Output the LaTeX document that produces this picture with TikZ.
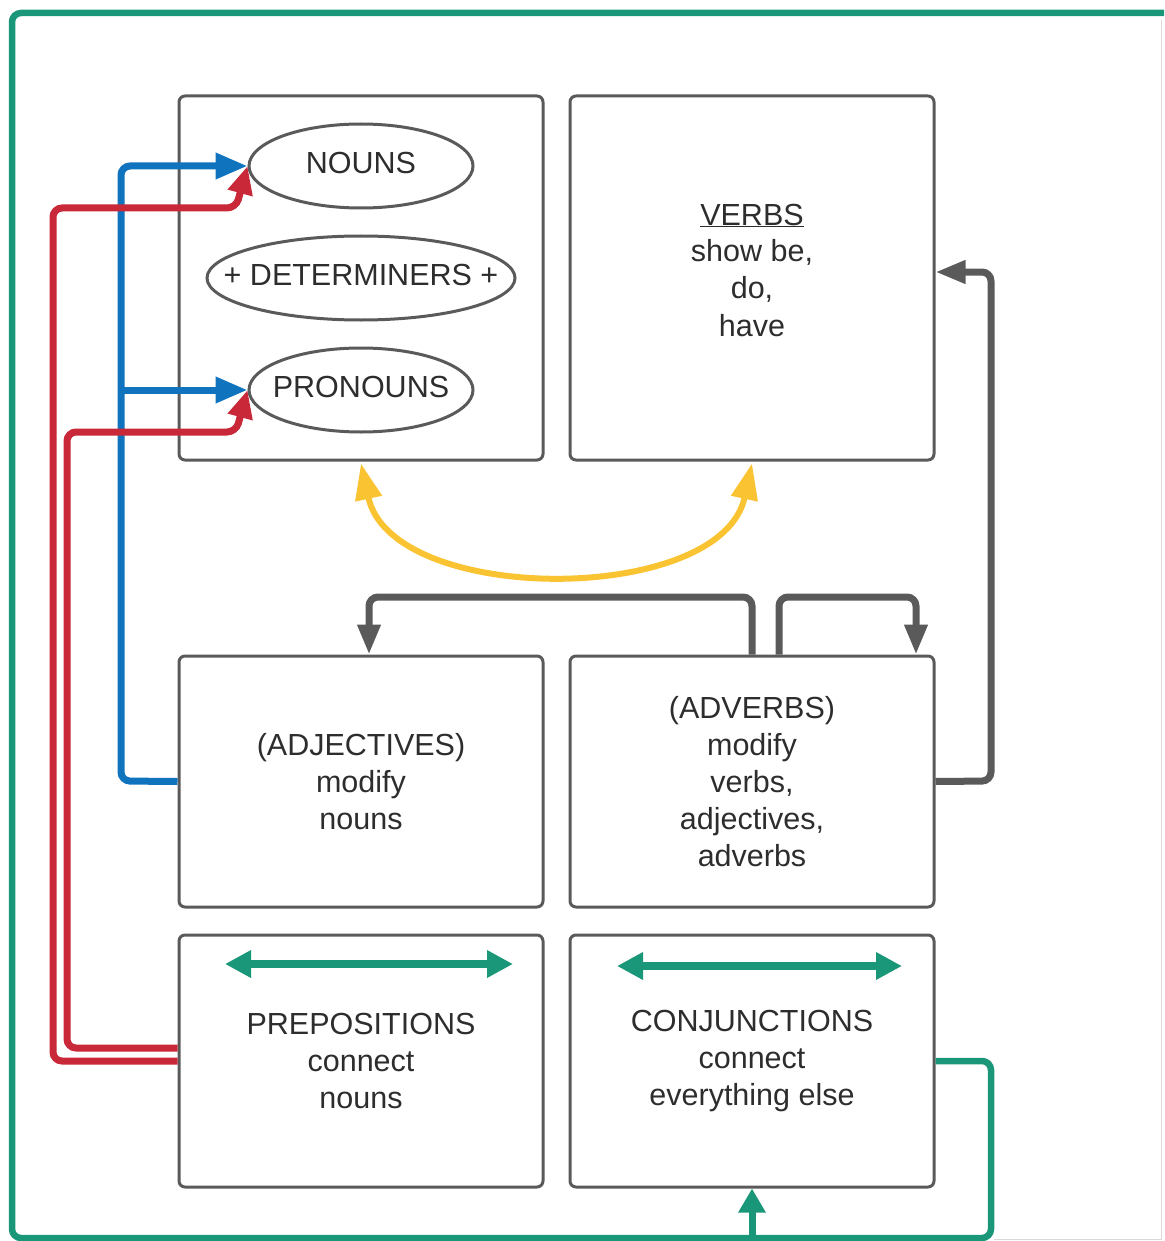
\documentclass[tikz,border=0pt]{standalone}
\usepackage{fontspec}
\setmainfont{Liberation Sans}
\usetikzlibrary{arrows.meta,shapes.geometric}
\definecolor{tealc}{RGB}{26,150,120}
\definecolor{redc}{RGB}{200,40,55}
\definecolor{bluec}{RGB}{16,115,190}
\definecolor{grayc}{RGB}{90,90,90}
\definecolor{yellowc}{RGB}{250,195,50}
\definecolor{textc}{RGB}{45,45,45}
\tikzset{
  box/.style={draw=grayc, line width=3pt, rounded corners=6pt, minimum width=364pt, inner sep=0pt, align=center, text=textc, font=\fontsize{30.5}{37}\selectfont},
  oval/.style={draw=grayc, line width=3pt, ellipse, minimum height=84pt, inner sep=0pt},
  ovaltext/.style={text=textc, font=\fontsize{30.5}{37}\selectfont, inner sep=0pt},
  conn/.style={line width=7pt, rounded corners=9pt},
  bluearrow/.style={conn, draw=bluec, -{Triangle[length=32pt,width=25pt]}},
  redarrow/.style={conn, draw=redc, -{Triangle[length=28pt,width=24pt]}},
  grayarrow/.style={conn, draw=grayc, -{Triangle[length=30pt,width=22pt]}},
  yellowarrow/.style={line width=6pt, draw=yellowc, {Triangle[length=36pt,width=26pt]}-{Triangle[length=36pt,width=26pt]}},
  tealline/.style={conn, line width=6.5pt, draw=tealc},
  tealarrow/.style={line width=7pt, draw=tealc, -{Triangle[length=24pt,width=26pt]}},
  tealdouble/.style={line width=8pt, draw=tealc, {Triangle[length=26pt,width=26pt]}-{Triangle[length=26pt,width=26pt]}},
}
\begin{document}
\begin{tikzpicture}[x=1pt,y=-1pt]
\useasboundingbox (0,0) rectangle (1164,1241);
% boxes
\node[box, minimum height=364pt] (nounbox) at (361,278) {};
\node[box, minimum height=364pt] (verbs) at (752,278) {};
\node[box, minimum height=251pt] (adj) at (361,781.5) {(ADJECTIVES)\\modify\\nouns};
\node[box, minimum height=251pt] (adv) at (752,781.5) {(ADVERBS)\\modify\\verbs,\\adjectives,\\adverbs};
\node[box, minimum height=252pt] (prep) at (361,1061) {PREPOSITIONS\\connect\\nouns};
\node[box, minimum height=252pt] (conj) at (752,1061) {CONJUNCTIONS\\connect\\everything else};
\node[ovaltext, align=center] (verbstext) at (752,270) {\underline{VERBS}\\show be,\\do,\\have};
% ellipses
\node[oval, minimum width=224pt] (nouns) at (361,166) {};
\node[oval, minimum width=308pt] (det) at (361,278) {};
\node[oval, minimum width=224pt] (pron) at (361,390) {};
\node[ovaltext] (nounst) at (361,163) {NOUNS};
\node[ovaltext] (dett) at (361,275) {+ DETERMINERS +};
\node[ovaltext] (pront) at (361,387) {PRONOUNS};
% blue
\coordinate (bj) at (121,390);
\draw[bluearrow] (adj.west) -- (121,781) -- (121,166) -- (nouns.west);
\draw[bluearrow, rounded corners=0pt] (bj) -- (pron.west);
% red
\draw[redarrow] (prep.west) -- (53,1061) -- (53,208) -- (236,208) -- (nouns.west);
\draw[redarrow] ([yshift=13pt]prep.west) -- (67,1048) -- (67,432) -- (236,432) -- (pron.west);
% yellow
\draw[yellowarrow] ([yshift=-2pt]nounbox.south) .. controls (392,606) and (721,606) .. ([yshift=-2pt]verbs.south);
% gray
\draw[grayarrow] (adv.east) -- (991,781) -- (991,272) -- ([yshift=6pt]verbs.east);
\draw[grayarrow] (adv.north) -- (752,597) -- (369,597) -- ([xshift=8pt]adj.north);
\draw[grayarrow] ([xshift=27pt]adv.north) -- (779,597) -- (916,597) -- ([xshift=164pt]adv.north);
% teal
\coordinate (pl) at (225,964);
\coordinate (pr) at (513,964);
\coordinate (cl) at (617,966);
\coordinate (cr) at (902,966);
\draw[tealdouble] (pl) -- (pr);
\draw[tealdouble] (cl) -- (cr);
\coordinate (fs) at (1164,13);
\draw[tealline] (conj.east) -- (991,1061) -- (991,1238) -- (12,1238) -- (12,13) -- (fs);
\coordinate (ca) at (752,1238);
\draw[tealarrow] (ca) -- (conj.south);
% faint edge
\coordinate (e1) at (1161,20);
\coordinate (e2) at (1161,1239);
\coordinate (e3) at (994,1239);
\draw[black!15, line width=1pt] (e1) -- (e2) -- (e3);
\end{tikzpicture}
\end{document}
